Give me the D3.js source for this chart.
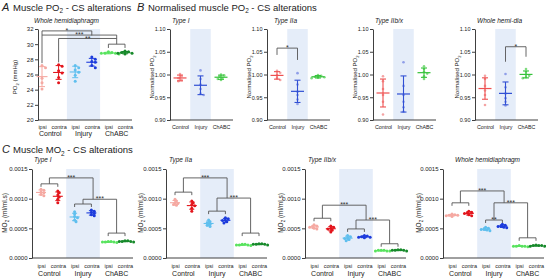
<!DOCTYPE html>
<html><head><meta charset="utf-8">
<script src="https://cdn.jsdelivr.net/npm/d3@7"></script>
<style>body{margin:0;background:#fff}svg{display:block}</style>
</head><body>
<svg id="chart" width="546" height="280"></svg>
<script>
// ---------------- DATA ----------------
const groupNames = ["Control", "Injury", "ChABC"];
const sideNames = ["ipsi", "contra"];

// Panel A: muscle PO2 (mmHg), whole hemidiaphragm
const poTicks = [20, 22, 24, 26, 28, 30, 32];
const poCtrlIpsi   = [27.2, 26.9, 25.5, 24.9, 24.1];
const poCtrlContra = [27.3, 27.1, 26.5, 26.2, 25.6, 24.9];
const poInjIpsi    = [27.2, 26.9, 26.6, 26.3, 25.9, 25.1];
const poInjContra  = [28.3, 28.0, 27.7, 27.6, 27.2, 26.9];
const poChIpsi     = [29.0, 28.9, 28.8, 28.8, 28.7, 28.8];
const poChContra   = [29.1, 29.0, 28.9, 28.8, 28.7, 28.8];

// Panel B: normalised PO2
const normTicks = [0.90, 0.95, 1.00, 1.05, 1.10];
const nT1Ctrl  = [1.001, 0.996, 0.992, 0.988, 0.985];
const nT1Inj   = [1.009, 0.990, 0.978, 0.968, 0.958, 0.955];
const nT1Ch    = [1.000, 0.998, 0.995, 0.993, 0.990, 0.988];
const nT2aCtrl = [1.008, 1.004, 0.998, 0.992, 0.988];
const nT2aInj  = [1.003, 0.978, 0.962, 0.955, 0.945, 0.935];
const nT2aCh   = [0.999, 0.997, 0.995, 0.994, 0.993, 0.992];
const nT2bCtrl = [0.996, 0.985, 0.968, 0.955, 0.940, 0.912];
const nT2bInj  = [1.027, 0.975, 0.955, 0.940, 0.928, 0.918];
const nT2bCh   = [1.018, 1.012, 1.006, 1.002, 0.996, 0.990];
const nWCtrl   = [0.997, 0.990, 0.975, 0.965, 0.955, 0.933];
const nWInj    = [1.001, 0.972, 0.958, 0.948, 0.940, 0.932];
const nWCh     = [1.012, 1.006, 1.000, 0.997, 0.994, 0.992];

// Panel C: muscle MO2 (ml/ml.s)
const moTicks = [0, 0.0005, 0.0010, 0.0015];
const moT1CtrlIpsi   = [0.00116, 0.00114, 0.00111, 0.00110, 0.00107, 0.00105];
const moT1CtrlContra = [0.00113, 0.00110, 0.00106, 0.00103, 0.00099, 0.00093];
const moT1InjIpsi    = [0.00078, 0.00074, 0.00070, 0.00068, 0.00064, 0.00061];
const moT1InjContra  = [0.00081, 0.00079, 0.00077, 0.00075, 0.00073, 0.00071];
const moT1ChIpsi     = [0.00028, 0.00027, 0.00027, 0.00026, 0.00027, 0.00028];
const moT1ChContra   = [0.00029, 0.00028, 0.00028, 0.00027, 0.00029, 0.00028];
const moT2aCtrlIpsi   = [0.00099, 0.00096, 0.00093, 0.00092, 0.00090, 0.00089];
const moT2aCtrlContra = [0.00096, 0.00093, 0.00090, 0.00088, 0.00084, 0.00079];
const moT2aInjIpsi    = [0.00064, 0.00061, 0.00059, 0.00057, 0.00055, 0.00053];
const moT2aInjContra  = [0.00068, 0.00066, 0.00064, 0.00063, 0.00061, 0.00059];
const moT2aChIpsi     = [0.00023, 0.00022, 0.00022, 0.00021, 0.00022, 0.00023];
const moT2aChContra   = [0.00024, 0.00023, 0.00023, 0.00022, 0.00024, 0.00023];
const moT2bCtrlIpsi   = [0.00056, 0.00054, 0.00053, 0.00052, 0.00050, 0.00049];
const moT2bCtrlContra = [0.00054, 0.00052, 0.00050, 0.00049, 0.00047, 0.00044];
const moT2bInjIpsi    = [0.00038, 0.00036, 0.00034, 0.00033, 0.00031, 0.00029];
const moT2bInjContra  = [0.00038, 0.00037, 0.00036, 0.00035, 0.00035, 0.00034];
const moT2bChIpsi     = [0.00013, 0.00012, 0.00013, 0.00012, 0.00013, 0.00012];
const moT2bChContra   = [0.00014, 0.00013, 0.00013, 0.00012, 0.00014, 0.00013];
const moWCtrlIpsi   = [0.00074, 0.00073, 0.00072, 0.00071, 0.00070, 0.00072];
const moWCtrlContra = [0.00079, 0.00077, 0.00076, 0.00075, 0.00073, 0.00071];
const moWInjIpsi    = [0.00052, 0.00050, 0.00049, 0.00048, 0.00047, 0.00046];
const moWInjContra  = [0.00057, 0.00055, 0.00054, 0.00053, 0.00052, 0.00051];
const moWChIpsi     = [0.00020, 0.00020, 0.00019, 0.00020, 0.00021, 0.00020];
const moWChContra   = [0.00021, 0.00020, 0.00021, 0.00022, 0.00020, 0.00021];

// ---------------- STYLE ----------------
const FONT = "'Liberation Sans', Arial, Helvetica, sans-serif";
const AXC = "#2a2a2a", BRC = "#555", BAND = "#e5edf9";
const sideColors = {
  "Control-ipsi": "#f5a9a2", "Control-contra": "#e3151c",
  "Injury-ipsi": "#5fbfee", "Injury-contra": "#1c3bdc",
  "ChABC-ipsi": "#58e35e", "ChABC-contra": "#16892a"
};
const normLine = { Control: "#ee5050", Injury: "#3150d4", ChABC: "#35c23a" };
const normPt   = { Control: "#f4a3a3", Injury: "#8f9ee8", ChABC: "#80dc80" };

const svg = d3.select("#chart");

function rich(g, x, y, str, fs, opts = {}) {
  const t = g.append("text").attr("x", x).attr("y", y)
    .attr("font-family", FONT).attr("font-size", fs).attr("fill", opts.fill || "#222");
  if (opts.anchor) t.attr("text-anchor", opts.anchor);
  if (opts.italic) t.attr("font-style", "italic");
  if (opts.transform) t.attr("transform", opts.transform);
  const parts = str.split("|");
  let shifted = false;
  parts.forEach((p, i) => {
    if (!p) return;
    const ts = t.append("tspan").text(p);
    if (i % 2 === 1) { ts.attr("font-size", fs * 0.68).attr("dy", fs * 0.28); shifted = true; }
    else if (shifted) { ts.attr("dy", -fs * 0.28); shifted = false; }
  });
  return t;
}

function swarm(vals, y, cx, r, minDist) {
  const pts = vals.map(v => ({ v, py: y(v) })).sort((a, b) => a.py - b.py);
  const placed = [];
  for (const p of pts) {
    for (let k = 0; k < 30; k++) {
      const off = k === 0 ? 0 : (k % 2 ? 1 : -1) * Math.ceil(k / 2) * r * 0.8;
      if (placed.every(q => Math.hypot(q.px - (cx + off), q.py - p.py) >= minDist)) { p.px = cx + off; break; }
    }
    if (p.px === undefined) p.px = cx;
    placed.push(p);
  }
  return placed;
}

function meanSD(g, vals, y, cx, halfMean, halfCap, color, sw) {
  const m = d3.mean(vals), s = d3.deviation(vals);
  g.append("line").attr("x1", cx).attr("x2", cx).attr("y1", y(m - s)).attr("y2", y(m + s)).attr("stroke", color).attr("stroke-width", sw);
  [m - s, m + s].forEach(v => g.append("line").attr("x1", cx - halfCap).attr("x2", cx + halfCap).attr("y1", y(v)).attr("y2", y(v)).attr("stroke", color).attr("stroke-width", sw));
  g.append("line").attr("x1", cx - halfMean).attr("x2", cx + halfMean).attr("y1", y(m)).attr("y2", y(m)).attr("stroke", color).attr("stroke-width", sw * 1.1);
}

function yAxis(g, y, x0, ticks, fmt, fs) {
  const ax = d3.axisLeft(y).tickValues(ticks).tickFormat(fmt).tickSize(3).tickSizeOuter(0).tickPadding(1.5);
  const a = g.append("g").attr("transform", `translate(${x0},0)`).call(ax);
  a.select(".domain").attr("stroke", AXC).attr("stroke-width", 0.9);
  a.selectAll(".tick line").attr("stroke", AXC).attr("stroke-width", 0.9);
  a.selectAll("text").attr("font-size", fs).attr("font-family", FONT).attr("fill", "#222");
}

function xBase(g, x, x0, x1, yb, labelY, fs, labels) {
  g.append("line").attr("x1", x0).attr("x2", x1).attr("y1", yb).attr("y2", yb).attr("stroke", AXC).attr("stroke-width", 0.9);
  const ax = d3.axisBottom(x).tickSize(0).tickPadding(labelY - yb).tickFormat(labels);
  const a = g.append("g").attr("transform", `translate(0,${yb})`).call(ax);
  a.select(".domain").remove();
  a.selectAll("text").attr("font-size", fs).attr("font-family", FONT).attr("fill", "#222").attr("dy", "0.71em");
}

function bpath(g, pts) {
  g.append("path").attr("d", d3.line()(pts)).attr("fill", "none").attr("stroke", BRC).attr("stroke-width", 0.9);
}
function star(g, x, yv, txt, fs) {
  g.append("text").attr("x", x).attr("y", yv + fs * 0.3).attr("text-anchor", "middle")
    .attr("font-family", FONT).attr("font-size", fs).attr("fill", "#333").text(txt);
}

const keys6 = [];
groupNames.forEach(gn => sideNames.forEach(s => keys6.push(gn + "-" + s)));

// ---------------- TITLES ----------------
rich(svg, 2, 10.5, "A", 11, { italic: true });
rich(svg, 13, 10.5, "Muscle PO|2| - CS alterations", 9.5);
rich(svg, 137, 10.5, "B", 11, { italic: true });
rich(svg, 148, 10.5, "Normalised muscle PO|2| - CS alterations", 9.5);
rich(svg, 2, 153, "C", 11, { italic: true });
rich(svg, 13, 153, "Muscle MO|2| - CS alterations", 9.5);

// ---------------- PANEL A ----------------
(function () {
  const g = svg.append("g");
  const a0 = 38, top = 29, bot = 120;
  const y = d3.scaleLinear().domain([20, 32]).range([bot, top]);
  const x = d3.scalePoint().domain(keys6).range([42, 125]);
  const step = x.step();
  g.append("rect").attr("x", x("Injury-ipsi") - step / 2).attr("y", top).attr("width", step * 2).attr("height", bot - top).attr("fill", BAND);
  yAxis(g, y, a0, poTicks, d3.format("d"), 6);
  xBase(g, x, a0, 132, bot, 125, 5.5, k => k.split("-")[1]);
  groupNames.forEach(gn => {
    const cx = (x(gn + "-ipsi") + x(gn + "-contra")) / 2;
    g.append("text").attr("x", cx).attr("y", 136).attr("text-anchor", "middle").attr("font-family", FONT).attr("font-size", 7).attr("fill", "#222").text(gn);
  });
  rich(g, 0, 0, "PO|2| (mmHg)", 6, { anchor: "middle", transform: "translate(17,77) rotate(-90)" });
  rich(g, 34, 22.5, "Whole hemidiaphragm", 6.5, { italic: true });
  const series = [poCtrlIpsi, poCtrlContra, poInjIpsi, poInjContra, poChIpsi, poChContra];
  series.forEach((vals, i) => {
    const k = keys6[i], c = sideColors[k];
    meanSD(g, vals, y, x(k), 5.5, 3, c, 1);
    swarm(vals, y, x(k), 2.2, 2.9).forEach(p => g.append("circle").attr("cx", p.px).attr("cy", p.py).attr("r", 1.5).attr("fill", c));
  });
  // significance brackets
  const xc = (x("ChABC-ipsi") + x("ChABC-contra")) / 2;
  const xa = x("Control-ipsi"), xb = x("Control-contra"), xi = x("Injury-contra");
  bpath(g, [[xa, y(27.5)], [xa, y(31.75)], [xi, y(31.75)], [xi, y(31.15)]]);
  star(g, (xa + xi) / 2, y(31.75), "*", 7);
  bpath(g, [[xa, y(31.2)], [xc, y(31.2)], [xc, y(30.0)]]);
  star(g, (xa + xc) / 2, y(31.2), "***", 7);
  bpath(g, [[xb, y(27.6)], [xb, y(30.75)], [xc, y(30.75)]]);
  star(g, (xb + xc) / 2, y(30.75), "**", 7);
  bpath(g, [[x("ChABC-ipsi"), y(29.5)], [x("ChABC-ipsi"), y(30.0)], [x("ChABC-contra"), y(30.0)], [x("ChABC-contra"), y(29.5)]]);
})();

// ---------------- PANEL B ----------------
const bPanels = [
  { a0: 170, title: "Type I", tx: 172, data: [nT1Ctrl, nT1Inj, nT1Ch], sig: null },
  { a0: 267, title: "Type IIa", tx: 274, data: [nT2aCtrl, nT2aInj, nT2aCh], sig: { from: "Control", to: "Injury", level: 1.058, l1: 1.043, l2: 1.032 } },
  { a0: 373, title: "Type IIb/x", tx: 375, data: [nT2bCtrl, nT2bInj, nT2bCh], sig: null },
  { a0: 475, title: "Whole hemi-dia", tx: 477, data: [nWCtrl, nWInj, nWCh], sig: { from: "Injury", to: "ChABC", level: 1.061, l1: 1.028, l2: 1.039 } }
];
bPanels.forEach(p => {
  const g = svg.append("g");
  const top = 29, bot = 120;
  const y = d3.scaleLinear().domain([0.90, 1.10]).range([bot, top]);
  const x = d3.scalePoint().domain(groupNames).range([p.a0 + 10, p.a0 + 51]);
  const step = x.step();
  g.append("rect").attr("x", x("Injury") - step / 2).attr("y", top).attr("width", step).attr("height", bot - top).attr("fill", BAND);
  yAxis(g, y, p.a0, normTicks, d3.format(".2f"), 5.5);
  xBase(g, x, p.a0, p.a0 + 63, bot, 125, 5.3, k => k);
  rich(g, 0, 0, "Normalised PO|2|", 6, { anchor: "middle", transform: `translate(${p.a0 - 16},77) rotate(-90)` });
  rich(g, p.tx, 22.5, p.title, 6.5, { italic: true });
  p.data.forEach((vals, i) => {
    const gn = groupNames[i];
    swarm(vals, y, x(gn), 2.0, 2.6).forEach(q => g.append("circle").attr("cx", q.px).attr("cy", q.py).attr("r", 1.3).attr("fill", normPt[gn]));
    meanSD(g, vals, y, x(gn), 6.5, 3, normLine[gn], 1.1);
  });
  if (p.sig) {
    const s = p.sig, x1 = x(s.from), x2 = x(s.to);
    bpath(g, [[x1, y(s.l1)], [x1, y(s.level)], [x2, y(s.level)], [x2, y(s.l2)]]);
    star(g, (x1 + x2) / 2, y(s.level), "*", 7);
  }
});

// ---------------- PANEL C ----------------
const cPanels = [
  { a0: 32, title: "Type I", tx: 34, lx: 7, data: [moT1CtrlIpsi, moT1CtrlContra, moT1InjIpsi, moT1InjContra, moT1ChIpsi, moT1ChContra],
    br: { ctrl: 0.00125, top: 0.00135, sec: 0.00099, inj: 0.00091, ch: 0.00042, injStar: "" } },
  { a0: 166, title: "Type IIa", tx: 169, lx: 143, data: [moT2aCtrlIpsi, moT2aCtrlContra, moT2aInjIpsi, moT2aInjContra, moT2aChIpsi, moT2aChContra],
    br: { ctrl: 0.00111, top: 0.00135, sec: 0.00101, inj: 0.00079, ch: 0.00042, injStar: "" } },
  { a0: 305, title: "Type IIb/x", tx: 308, lx: 283, data: [moT2bCtrlIpsi, moT2bCtrlContra, moT2bInjIpsi, moT2bInjContra, moT2bChIpsi, moT2bChContra],
    br: { ctrl: 0.00067, top: 0.00089, sec: 0.00064, inj: 0.00049, ch: 0.00024, injStar: "" } },
  { a0: 443, title: "Whole hemidiaphragm", tx: 455, lx: 421, data: [moWCtrlIpsi, moWCtrlContra, moWInjIpsi, moWInjContra, moWChIpsi, moWChContra],
    br: { ctrl: 0.00093, top: 0.00113, sec: 0.00093, inj: 0.00064, ch: 0.00034, injStar: "**" } }
];
cPanels.forEach(p => {
  const g = svg.append("g");
  const top = 169, bot = 258;
  const y = d3.scaleLinear().domain([0, 0.0015]).range([bot, top]);
  const x = d3.scalePoint().domain(keys6).range([p.a0 + 9, p.a0 + 93]);
  const step = x.step();
  g.append("rect").attr("x", x("Injury-ipsi") - step / 2).attr("y", top).attr("width", step * 2).attr("height", bot - top).attr("fill", BAND);
  yAxis(g, y, p.a0, moTicks, d3.format(".4f"), 6);
  xBase(g, x, p.a0, p.a0 + 101, bot, 264, 5.5, k => k.split("-")[1]);
  groupNames.forEach(gn => {
    const cx = (x(gn + "-ipsi") + x(gn + "-contra")) / 2;
    g.append("text").attr("x", cx).attr("y", 276).attr("text-anchor", "middle").attr("font-family", FONT).attr("font-size", 7).attr("fill", "#222").text(gn);
  });
  rich(g, 0, 0, "MO|2| (ml/ml.s)", 6.5, { anchor: "middle", transform: `translate(${p.lx},213) rotate(-90)` });
  rich(g, p.tx, 161.5, p.title, 6.5, { italic: true });
  p.data.forEach((vals, i) => {
    const k = keys6[i], c = sideColors[k];
    meanSD(g, vals, y, x(k), 5, 2.5, c, 1);
    swarm(vals, y, x(k), 1.8, 2.1).forEach(q => g.append("circle").attr("cx", q.px).attr("cy", q.py).attr("r", 1.5).attr("fill", c));
  });
  // nested brackets
  const b = p.br, tk = 3;
  const mid = gn => (x(gn + "-ipsi") + x(gn + "-contra")) / 2;
  const grp = (gn, lv) => bpath(g, [[x(gn + "-ipsi"), y(lv) + tk], [x(gn + "-ipsi"), y(lv)], [x(gn + "-contra"), y(lv)], [x(gn + "-contra"), y(lv) + tk]]);
  const cx = mid("Control"), ix = mid("Injury"), hx = mid("ChABC");
  const rx = ix + 0.3 * (hx - ix);
  grp("Control", b.ctrl); grp("Injury", b.inj); grp("ChABC", b.ch);
  bpath(g, [[cx, y(b.ctrl)], [cx, y(b.top)], [rx, y(b.top)], [rx, y(b.sec)]]);
  star(g, (cx + rx) / 2, y(b.top), "***", 7);
  bpath(g, [[ix, y(b.inj)], [ix, y(b.sec)], [hx, y(b.sec)], [hx, y(b.ch)]]);
  star(g, (ix + hx) / 2, y(b.sec), "***", 7);
  if (b.injStar) star(g, ix, y(b.inj), b.injStar, 7);
});
</script>
</body></html>
